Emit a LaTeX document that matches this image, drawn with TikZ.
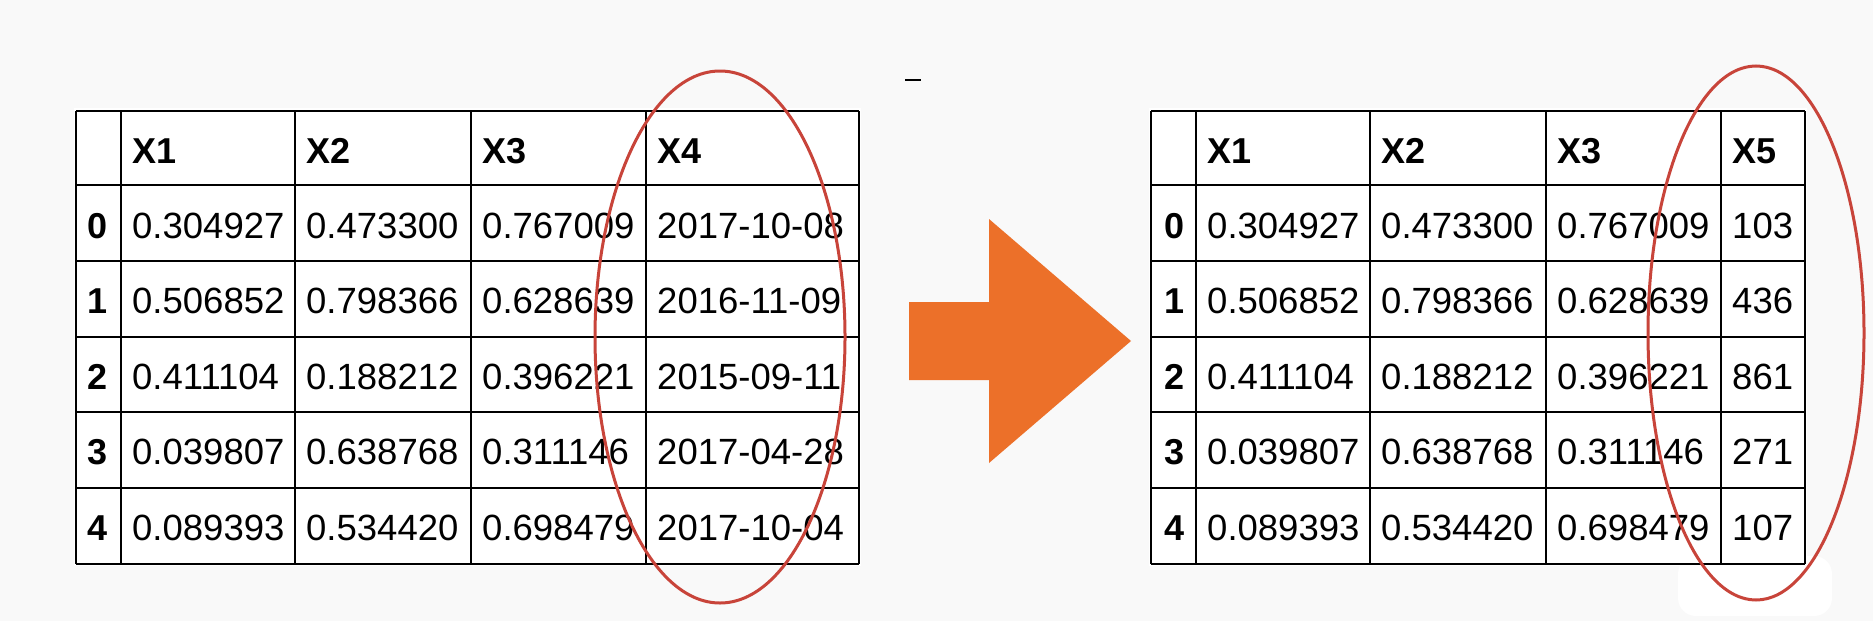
\documentclass[tikz,border=0pt]{standalone}
\usepackage{fontspec}
\setmainfont{Liberation Sans}
\definecolor{bggray}{RGB}{249,249,249}
\definecolor{ringred}{RGB}{200,68,58}
\definecolor{arroworange}{RGB}{236,112,41}
\newcommand{\cellfont}{\fontsize{36.5}{42}\selectfont}
\newcommand{\headfont}{\fontsize{36}{42}\selectfont\bfseries}
\tikzset{
  cell/.style={anchor=base west, inner sep=0pt, font=\cellfont},
  head/.style={cell, font=\headfont},
  idx/.style={anchor=base, inner sep=0pt, font=\headfont},
  grid/.style={line width=2pt, black},
  ring/.style={line width=3pt, draw=ringred},
}

\begin{document}
\begin{tikzpicture}[x=1pt,y=-1pt]
  \useasboundingbox (0,0) rectangle (1873,621);
  \fill[bggray] (0,0) rectangle (1873,621);
  % table before
  \fill[white] (74,108) rectangle (861,566);
  \foreach \y in {111,185,261,337,412,488,564}
    \draw[grid] (76,\y) -- (859,\y);
  \foreach \x in {76,121,295,471,646,859}
    \draw[grid] (\x,111) -- (\x,564);
  \node[head] (Lh1) at (132,163) {X1};
  \node[head] (Lh2) at (306,163) {X2};
  \node[head] (Lh3) at (482,163) {X3};
  \node[head] (Lh4) at (657,163) {X4};
  \foreach \a/\b/\c/\d [count=\i from 0] in
    {0.304927/0.473300/0.767009/2017-10-08,
     0.506852/0.798366/0.628639/2016-11-09,
     0.411104/0.188212/0.396221/2015-09-11,
     0.039807/0.638768/0.311146/2017-04-28,
     0.089393/0.534420/0.698479/2017-10-04}
  {
    \node[idx] (Li\i) at (98,{238+75.6*\i}) {\i};
    \node[cell] (L\i-1) at (132,{238+75.6*\i}) {\a};
    \node[cell] (L\i-2) at (306,{238+75.6*\i}) {\b};
    \node[cell] (L\i-3) at (482,{238+75.6*\i}) {\c};
    \node[cell] (L\i-4) at (657,{238+75.6*\i}) {\d};
  }
  \draw[ring] (720,337) ellipse [x radius=125pt, y radius=266pt];
  \draw[line width=2pt] (905,80) -- (921,80);

  % arrow
  \fill[arroworange] (909,302) -- (989,302) -- (989,219) -- (1131,341)
    -- (989,463) -- (989,380) -- (909,380) -- cycle;

  % table after
  \fill[white] (1149,108) rectangle (1807,566);
  \fill[white, rounded corners=18pt] (1678,556) rectangle (1832,616);
  \foreach \y in {111,185,261,337,412,488,564}
    \draw[grid] (1151,\y) -- (1805,\y);
  \foreach \x in {1151,1196,1370,1546,1721,1805}
    \draw[grid] (\x,111) -- (\x,564);
  \node[head] (Rh1) at (1207,163) {X1};
  \node[head] (Rh2) at (1381,163) {X2};
  \node[head] (Rh3) at (1557,163) {X3};
  \node[head] (Rh5) at (1732,163) {X5};
  \foreach \a/\b/\c/\d [count=\i from 0] in
    {0.304927/0.473300/0.767009/103,
     0.506852/0.798366/0.628639/436,
     0.411104/0.188212/0.396221/861,
     0.039807/0.638768/0.311146/271,
     0.089393/0.534420/0.698479/107}
  {
    \node[idx] (Ri\i) at (1174,{238+75.6*\i}) {\i};
    \node[cell] (R\i-1) at (1207,{238+75.6*\i}) {\a};
    \node[cell] (R\i-2) at (1381,{238+75.6*\i}) {\b};
    \node[cell] (R\i-3) at (1557,{238+75.6*\i}) {\c};
    \node[cell] (R\i-5) at (1732,{238+75.6*\i}) {\d};
  }
  \draw[ring] (1756,333) ellipse [x radius=108pt, y radius=267pt];
\end{tikzpicture}
\end{document}
